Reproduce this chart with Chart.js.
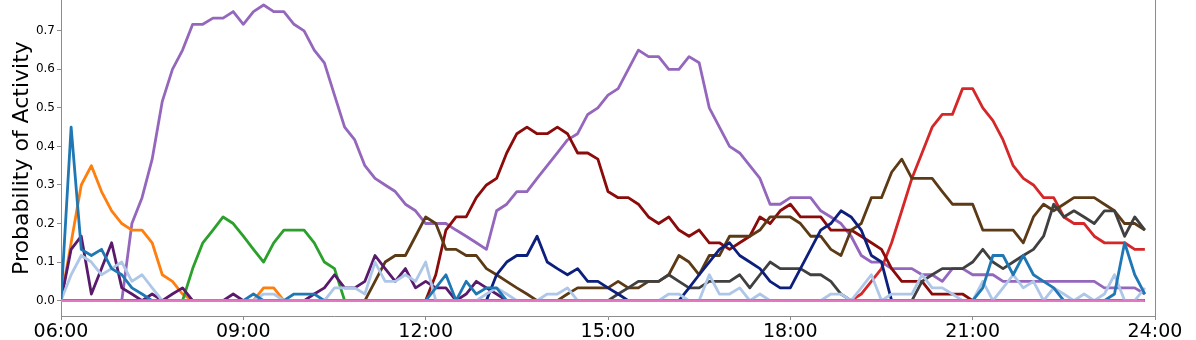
<!DOCTYPE html>
<html>
<head>
<meta charset="utf-8">
<script src="https://cdn.jsdelivr.net/npm/chart.js@4.4.1/dist/chart.umd.min.js"></script>
<style>
  html, body { margin: 0; padding: 0; background: #ffffff; }
</style>
</head>
<body>
<canvas id="graficoAtividade" width="1196" height="340"></canvas>
<script>
// one value every 10 minutes, 06:00 -> 23:50 (108 slots)
const xTickLabels = ["06:00", "09:00", "12:00", "15:00", "18:00", "21:00", "24:00"];
const yTickValues = [0, 0.1, 0.2, 0.3, 0.4, 0.5, 0.6, 0.7];

const steelBlue = [
  0, 0.45, 0.133, 0.117, 0.133, 0.083, 0.067, 0.033, 0.017, 0, 0, 0, 0, 0, 0, 0, 0, 0,
  0, 0.017, 0, 0, 0, 0.017, 0.017, 0.017, 0, 0, 0, 0, 0, 0, 0, 0, 0, 0,
  0, 0.033, 0.067, 0, 0.05, 0.017, 0.033, 0.033, 0, 0, 0, 0, 0, 0, 0, 0, 0, 0,
  0, 0, 0, 0, 0, 0, 0, 0, 0, 0, 0, 0, 0, 0, 0, 0, 0, 0,
  0, 0, 0, 0, 0, 0, 0, 0, 0, 0, 0, 0, 0, 0, 0, 0, 0, 0,
  0, 0.033, 0.117, 0.117, 0.067, 0.117, 0.067, 0.05, 0.033, 0, 0, 0, 0, 0, 0.017, 0.15, 0.067, 0.017,
];
const orange = [
  0, 0.15, 0.3, 0.35, 0.283, 0.233, 0.2, 0.183, 0.183, 0.15, 0.067, 0.05, 0.017, 0, 0, 0, 0, 0,
  0, 0, 0.033, 0.033, 0, 0, 0, 0, 0, 0, 0, 0, 0, 0, 0, 0, 0, 0,
  0, 0, 0, 0, 0, 0, 0, 0, 0, 0, 0, 0, 0, 0, 0, 0, 0, 0,
  0, 0, 0, 0, 0, 0, 0, 0, 0, 0, 0, 0, 0, 0, 0, 0, 0, 0,
  0, 0, 0, 0, 0, 0, 0, 0, 0, 0, 0, 0, 0, 0, 0, 0, 0, 0,
  0, 0, 0, 0, 0, 0, 0, 0, 0, 0, 0, 0, 0, 0, 0, 0, 0, 0,
];
const green = [
  0, 0, 0, 0, 0, 0, 0, 0, 0, 0, 0, 0, 0, 0.083, 0.15, 0.183, 0.217, 0.2,
  0.167, 0.133, 0.1, 0.15, 0.183, 0.183, 0.183, 0.15, 0.1, 0.083, 0, 0, 0, 0, 0, 0, 0, 0,
  0, 0, 0, 0, 0, 0, 0, 0, 0, 0, 0, 0, 0, 0, 0, 0, 0, 0,
  0, 0, 0, 0, 0, 0, 0, 0, 0, 0, 0, 0, 0, 0, 0, 0, 0, 0,
  0, 0, 0, 0, 0, 0, 0, 0, 0, 0, 0, 0, 0, 0, 0, 0, 0, 0,
  0, 0, 0, 0, 0, 0, 0, 0, 0, 0, 0, 0, 0, 0, 0, 0, 0, 0,
];
const red = [
  0, 0, 0, 0, 0, 0, 0, 0, 0, 0, 0, 0, 0, 0, 0, 0, 0, 0,
  0, 0, 0, 0, 0, 0, 0, 0, 0, 0, 0, 0, 0, 0, 0, 0, 0, 0,
  0, 0, 0, 0, 0, 0, 0, 0, 0, 0, 0, 0, 0, 0, 0, 0, 0, 0,
  0, 0, 0, 0, 0, 0, 0, 0, 0, 0, 0, 0, 0, 0, 0, 0, 0, 0,
  0, 0, 0, 0, 0, 0, 0, 0.017, 0.05, 0.083, 0.15, 0.233, 0.317, 0.383, 0.45, 0.483, 0.483, 0.55,
  0.55, 0.5, 0.467, 0.417, 0.35, 0.317, 0.3, 0.267, 0.267, 0.217, 0.2, 0.2, 0.167, 0.15, 0.15, 0.15, 0.133, 0.133,
];
const purple = [
  0, 0, 0, 0, 0, 0, 0, 0.2, 0.267, 0.367, 0.517, 0.6, 0.65, 0.717, 0.717, 0.733, 0.733, 0.75,
  0.717, 0.75, 0.767, 0.75, 0.75, 0.717, 0.7, 0.65, 0.617, 0.533, 0.45, 0.417, 0.35, 0.317, 0.3, 0.283, 0.25, 0.233,
  0.2, 0.2, 0.2, 0.183, 0.167, 0.15, 0.133, 0.233, 0.25, 0.283, 0.283, 0.317, 0.35, 0.383, 0.417, 0.433, 0.483, 0.5,
  0.533, 0.55, 0.6, 0.65, 0.633, 0.633, 0.6, 0.6, 0.633, 0.617, 0.5, 0.45, 0.4, 0.383, 0.35, 0.317, 0.25, 0.25,
  0.267, 0.267, 0.267, 0.233, 0.217, 0.2, 0.167, 0.117, 0.1, 0.1, 0.083, 0.083, 0.083, 0.067, 0.067, 0.05, 0.083, 0.083,
  0.067, 0.067, 0.067, 0.05, 0.05, 0.05, 0.05, 0.05, 0.05, 0.05, 0.05, 0.05, 0.05, 0.033, 0.033, 0.033, 0.033, 0.017,
];
const darkRed = [
  0, 0, 0, 0, 0, 0, 0, 0, 0, 0, 0, 0, 0, 0, 0, 0, 0, 0,
  0, 0, 0, 0, 0, 0, 0, 0, 0, 0, 0, 0, 0, 0, 0, 0, 0, 0,
  0, 0.067, 0.183, 0.217, 0.217, 0.267, 0.3, 0.317, 0.383, 0.433, 0.45, 0.433, 0.433, 0.45, 0.433, 0.383, 0.383, 0.367,
  0.283, 0.267, 0.267, 0.25, 0.217, 0.2, 0.217, 0.183, 0.167, 0.183, 0.15, 0.15, 0.133, 0.15, 0.167, 0.217, 0.2, 0.233,
  0.25, 0.217, 0.217, 0.217, 0.183, 0.183, 0.183, 0.167, 0.15, 0.133, 0.083, 0.05, 0.05, 0.05, 0.017, 0.017, 0.017, 0.017,
  0, 0, 0, 0, 0, 0, 0, 0, 0, 0, 0, 0, 0, 0, 0, 0, 0, 0,
];
const darkPurple = [
  0, 0.133, 0.167, 0.017, 0.083, 0.15, 0.033, 0.017, 0, 0.017, 0, 0.017, 0.033, 0, 0, 0, 0, 0.017,
  0, 0, 0, 0, 0, 0, 0, 0.017, 0.033, 0.067, 0.033, 0.033, 0.05, 0.117, 0.083, 0.05, 0.083, 0.033,
  0.05, 0.033, 0.033, 0, 0.017, 0.05, 0.033, 0.017, 0, 0, 0, 0, 0, 0, 0, 0, 0, 0,
  0, 0, 0, 0, 0, 0, 0, 0, 0, 0, 0, 0, 0, 0, 0, 0, 0, 0,
  0, 0, 0, 0, 0, 0, 0, 0, 0, 0, 0, 0, 0, 0, 0, 0, 0, 0,
  0, 0, 0, 0, 0, 0, 0, 0, 0, 0, 0, 0, 0, 0, 0, 0, 0, 0,
];
const lightBlue = [
  0, 0.067, 0.117, 0.1, 0.067, 0.083, 0.1, 0.05, 0.067, 0.033, 0, 0, 0, 0, 0, 0, 0, 0,
  0, 0, 0.017, 0.017, 0, 0, 0, 0, 0, 0.033, 0.033, 0.033, 0.017, 0.1, 0.05, 0.05, 0.067, 0.05,
  0.1, 0, 0, 0, 0, 0, 0.017, 0.033, 0.017, 0, 0, 0, 0.017, 0.017, 0.033, 0, 0, 0,
  0, 0, 0, 0, 0, 0, 0.017, 0.017, 0, 0, 0.067, 0.017, 0.017, 0.033, 0, 0.017, 0, 0,
  0, 0, 0, 0, 0.017, 0.017, 0, 0.033, 0.067, 0, 0.017, 0.017, 0.017, 0.067, 0.033, 0.033, 0.017, 0,
  0, 0.05, 0, 0.033, 0.067, 0.033, 0.05, 0, 0.033, 0.017, 0, 0.017, 0, 0.017, 0.067, 0, 0, 0.033,
];
const navy = [
  0, 0, 0, 0, 0, 0, 0, 0, 0, 0, 0, 0, 0, 0, 0, 0, 0, 0,
  0, 0, 0, 0, 0, 0, 0, 0, 0, 0, 0, 0, 0, 0, 0, 0, 0, 0,
  0, 0, 0, 0, 0, 0, 0, 0.067, 0.1, 0.117, 0.117, 0.167, 0.1, 0.083, 0.067, 0.083, 0.05, 0.05,
  0.033, 0.017, 0, 0, 0, 0, 0, 0, 0.033, 0.067, 0.1, 0.133, 0.15, 0.117, 0.1, 0.083, 0.05, 0.033,
  0.033, 0.083, 0.133, 0.183, 0.2, 0.233, 0.217, 0.183, 0.117, 0.1, 0, 0, 0, 0, 0, 0, 0, 0,
  0, 0, 0, 0, 0, 0, 0, 0, 0, 0, 0, 0, 0, 0, 0, 0, 0, 0,
];
const brown = [
  0, 0, 0, 0, 0, 0, 0, 0, 0, 0, 0, 0, 0, 0, 0, 0, 0, 0,
  0, 0, 0, 0, 0, 0, 0, 0, 0, 0, 0, 0, 0, 0.05, 0.1, 0.117, 0.117, 0.167,
  0.217, 0.2, 0.133, 0.133, 0.117, 0.117, 0.083, 0.067, 0.05, 0.033, 0.017, 0, 0, 0, 0.017, 0.033, 0.033, 0.033,
  0.033, 0.05, 0.033, 0.033, 0.05, 0.05, 0.067, 0.117, 0.1, 0.067, 0.117, 0.117, 0.167, 0.167, 0.167, 0.183, 0.217, 0.217,
  0.217, 0.2, 0.167, 0.167, 0.133, 0.117, 0.183, 0.2, 0.267, 0.267, 0.333, 0.367, 0.317, 0.317, 0.317, 0.283, 0.25, 0.25,
  0.25, 0.183, 0.183, 0.183, 0.183, 0.15, 0.217, 0.25, 0.233, 0.25, 0.267, 0.267, 0.267, 0.25, 0.233, 0.2, 0.2, 0.183,
];
const darkGray = [
  0, 0, 0, 0, 0, 0, 0, 0, 0, 0, 0, 0, 0, 0, 0, 0, 0, 0,
  0, 0, 0, 0, 0, 0, 0, 0, 0, 0, 0, 0, 0, 0, 0, 0, 0, 0,
  0, 0, 0, 0, 0, 0, 0, 0, 0, 0, 0, 0, 0, 0, 0, 0, 0, 0,
  0, 0.017, 0.033, 0.05, 0.05, 0.05, 0.067, 0.05, 0.033, 0.033, 0.05, 0.05, 0.05, 0.067, 0.033, 0.067, 0.1, 0.083,
  0.083, 0.083, 0.067, 0.067, 0.05, 0.017, 0, 0, 0, 0, 0, 0, 0, 0.05, 0.067, 0.083, 0.083, 0.083,
  0.1, 0.133, 0.1, 0.083, 0.1, 0.117, 0.133, 0.167, 0.25, 0.217, 0.233, 0.217, 0.2, 0.233, 0.233, 0.167, 0.217, 0.183,
];
const pink = [
  0, 0, 0, 0, 0, 0, 0, 0, 0, 0, 0, 0, 0, 0, 0, 0, 0, 0,
  0, 0, 0, 0, 0, 0, 0, 0, 0, 0, 0, 0, 0, 0, 0, 0, 0, 0,
  0, 0, 0, 0, 0, 0, 0, 0, 0, 0, 0, 0, 0, 0, 0, 0, 0, 0,
  0, 0, 0, 0, 0, 0, 0, 0, 0, 0, 0, 0, 0, 0, 0, 0, 0, 0,
  0, 0, 0, 0, 0, 0, 0, 0, 0, 0, 0, 0, 0, 0, 0, 0, 0, 0,
  0, 0, 0, 0, 0, 0, 0, 0, 0, 0, 0, 0, 0, 0, 0, 0, 0, 0,
];

const slotsPerTick = 18; // 3 hours of 10-minute slots
const corEixo = "#8c8c8c";
const fonte = "'DejaVu Sans', sans-serif";

function serie(valores, cor, ordem) {
  return {
    data: valores.map((v, i) => ({ x: i, y: v })),
    borderColor: cor,
    backgroundColor: cor,
    borderWidth: 2.8,
    borderJoinStyle: "round",
    pointRadius: 0,
    pointHoverRadius: 0,
    fill: false,
    tension: 0,
    order: ordem,
  };
}

// Chart.js draws higher "order" first, so pink (0) sits on top
const datasets = [
  serie(pink, "#e377c2", 0),
  serie(steelBlue, "#1f77b4", 1),
  serie(lightBlue, "#aec7e8", 2),
  serie(darkPurple, "#5a1a6c", 3),
  serie(navy, "#0d1f7d", 4),
  serie(darkGray, "#404040", 5),
  serie(brown, "#5c3a16", 6),
  serie(darkRed, "#8b0a0a", 7),
  serie(red, "#d62728", 8),
  serie(green, "#2ca02c", 9),
  serie(orange, "#ff7f0e", 10),
  serie(purple, "#9467bd", 11),
];

// right spine of the frame
const molduraDireita = {
  id: "molduraDireita",
  afterDraw(chart) {
    const { ctx, chartArea } = chart;
    ctx.save();
    ctx.strokeStyle = corEixo;
    ctx.lineWidth = 1;
    ctx.beginPath();
    ctx.moveTo(chartArea.right + 0.5, chartArea.top);
    ctx.lineTo(chartArea.right + 0.5, chartArea.bottom);
    ctx.stroke();
    ctx.restore();
  },
};

new Chart(document.getElementById("graficoAtividade"), {
  type: "line",
  data: { datasets: datasets },
  plugins: [molduraDireita],
  options: {
    responsive: false,
    animation: false,
    devicePixelRatio: 1,
    layout: { padding: { left: 0, right: 41, top: 0, bottom: 0 } },
    plugins: { legend: { display: false }, tooltip: { enabled: false } },
    scales: {
      x: {
        type: "linear",
        min: 0,
        max: slotsPerTick * (xTickLabels.length - 1),
        afterBuildTicks: (s) => {
          s.ticks = xTickLabels.map((_, k) => ({ value: k * slotsPerTick }));
        },
        afterFit: (s) => {
          s.height = 24;
          s.paddingLeft = 0;
          s.paddingRight = 0;
        },
        ticks: {
          autoSkip: false,
          maxRotation: 0,
          padding: 1,
          color: "#000",
          font: { family: fonte, size: 19 },
          callback: (v) => xTickLabels[Math.round(v / slotsPerTick)],
        },
        grid: { drawOnChartArea: false, drawTicks: true, tickLength: 4, color: corEixo },
        border: { color: corEixo, width: 1 },
      },
      y: {
        min: -0.04,
        max: 0.78,
        afterBuildTicks: (s) => {
          s.ticks = yTickValues.map((v) => ({ value: v }));
        },
        afterFit: (s) => {
          s.width = 61;
          s.paddingTop = 0;
          s.paddingBottom = 0;
        },
        ticks: {
          padding: 2,
          color: "#000",
          font: { family: fonte, size: 12 },
          callback: (v) => v.toFixed(1),
        },
        title: {
          display: true,
          text: "Probability of Activity",
          color: "#000",
          font: { family: fonte, size: 22 },
          padding: { top: 9, bottom: 0 },
        },
        grid: { drawOnChartArea: false, drawTicks: true, tickLength: 4, color: corEixo },
        border: { color: corEixo, width: 1 },
      },
    },
  },
});
</script>
</body>
</html>
